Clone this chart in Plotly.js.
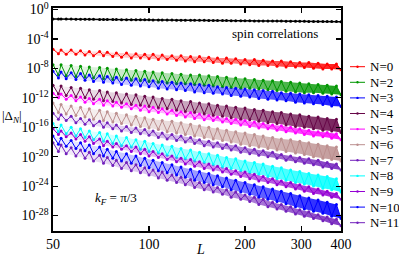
<!DOCTYPE html>
<html><head><meta charset="utf-8">
<script src="https://cdn.plot.ly/plotly-3.0.1.min.js"></script>
<style>html,body{margin:0;padding:0;background:#fff}#chart{width:399px;height:257px}</style>
</head><body><div id="chart"></div>
<script>
// chain lengths
const L = [50,52,53,55,57,59,61,63,65,67,70,72,74,77,79,82,85,88,91,94,97,100,103,107,110,114,118,122,126,130,135,139,144,149,154,159,164,170,175,181,187,194,200,207,214,221,228,236,244,252,260,269,278,288,297,307,317,328,339,351,362,374,387,400];

// log10 of the plotted magnitudes
const spinLog = [-1.29,-1.30,-1.30,-1.31,-1.31,-1.32,-1.33,-1.33,-1.34,-1.34,-1.35,-1.35,-1.36,-1.37,-1.37,-1.38,-1.38,-1.39,-1.40,-1.40,-1.41,-1.41,-1.42,-1.43,-1.43,-1.44,-1.44,-1.45,-1.45,-1.46,-1.47,-1.47,-1.48,-1.48,-1.49,-1.50,-1.50,-1.51,-1.51,-1.52,-1.52,-1.53,-1.54,-1.54,-1.55,-1.55,-1.56,-1.57,-1.57,-1.58,-1.58,-1.59,-1.60,-1.60,-1.61,-1.61,-1.62,-1.62,-1.63,-1.64,-1.64,-1.65,-1.65,-1.66];
const n0Log = [-5.4,-6.0,-5.5,-6.1,-5.5,-6.1,-5.6,-6.2,-5.7,-6.3,-5.7,-6.3,-5.8,-6.4,-5.9,-6.5,-5.9,-6.6,-6.0,-6.6,-6.1,-6.7,-6.1,-6.8,-6.2,-6.8,-6.3,-6.9,-6.3,-7.0,-6.4,-7.1,-6.4,-7.1,-6.5,-7.2,-6.6,-7.3,-6.6,-7.3,-6.7,-7.4,-6.8,-7.5,-6.8,-7.6,-6.9,-7.6,-7.0,-7.7,-7.0,-7.8,-7.1,-7.8,-7.2,-7.9,-7.2,-8.0,-7.3,-8.1,-7.4,-8.1,-7.4,-8.2];
const n2Log = [-7.5,-8.9,-7.5,-9.0,-7.6,-9.1,-7.7,-9.2,-7.8,-9.3,-7.9,-9.4,-8.0,-9.5,-8.1,-9.5,-8.2,-9.6,-8.3,-9.7,-8.4,-9.8,-8.5,-9.9,-8.6,-10.0,-8.7,-10.1,-8.8,-10.1,-8.9,-10.2,-8.9,-10.3,-9.0,-10.4,-9.1,-10.5,-9.2,-10.6,-9.3,-10.7,-9.4,-10.7,-9.5,-10.8,-9.6,-10.9,-9.7,-11.0,-9.8,-11.1,-9.9,-11.2,-10.0,-11.3,-10.1,-11.3,-10.2,-11.4,-10.3,-11.5,-10.4,-11.6];
const n3Log = [-8.4,-9.3,-8.5,-9.4,-8.6,-9.5,-8.7,-9.6,-8.9,-9.8,-9.0,-9.9,-9.1,-10.0,-9.2,-10.2,-9.3,-10.3,-9.4,-10.4,-9.5,-10.5,-9.7,-10.7,-9.8,-10.8,-9.9,-10.9,-10.0,-11.0,-10.1,-11.2,-10.2,-11.3,-10.3,-11.4,-10.5,-11.5,-10.6,-11.7,-10.7,-11.8,-10.8,-11.9,-10.9,-12.1,-11.0,-12.2,-11.1,-12.3,-11.3,-12.4,-11.4,-12.6,-11.5,-12.7,-11.6,-12.8,-11.7,-12.9,-11.8,-13.1,-11.9,-13.2];
const n4Log = [-10.3,-11.5,-10.4,-11.7,-10.6,-11.9,-10.7,-12.0,-10.9,-12.2,-11.0,-12.4,-11.2,-12.5,-11.3,-12.7,-11.5,-12.9,-11.6,-13.0,-11.8,-13.2,-11.9,-13.4,-12.1,-13.5,-12.2,-13.7,-12.4,-13.9,-12.5,-14.0,-12.7,-14.2,-12.8,-14.4,-13.0,-14.5,-13.1,-14.7,-13.3,-14.9,-13.4,-15.0,-13.6,-15.2,-13.7,-15.4,-13.9,-15.5,-14.0,-15.7,-14.2,-15.9,-14.3,-16.0,-14.5,-16.2,-14.6,-16.4,-14.8,-16.5,-14.9,-16.7];
const n5Log = [-11.4,-12.0,-11.5,-12.2,-11.7,-12.4,-11.9,-12.6,-12.1,-12.8,-12.2,-13.0,-12.4,-13.1,-12.6,-13.3,-12.8,-13.5,-13.0,-13.7,-13.1,-13.9,-13.3,-14.0,-13.5,-14.2,-13.7,-14.4,-13.9,-14.6,-14.0,-14.8,-14.2,-15.0,-14.4,-15.1,-14.6,-15.3,-14.8,-15.5,-14.9,-15.7,-15.1,-15.9,-15.3,-16.1,-15.5,-16.2,-15.7,-16.4,-15.8,-16.6,-16.0,-16.8,-16.2,-17.0,-16.4,-17.2,-16.6,-17.3,-16.7,-17.5,-16.9,-17.7];
const n6Log = [-12.7,-14.0,-12.9,-14.2,-13.1,-14.4,-13.3,-14.6,-13.5,-14.9,-13.7,-15.1,-13.9,-15.3,-14.1,-15.5,-14.3,-15.7,-14.5,-15.9,-14.7,-16.1,-14.9,-16.3,-15.1,-16.6,-15.2,-16.8,-15.4,-17.0,-15.6,-17.2,-15.8,-17.4,-16.0,-17.6,-16.2,-17.8,-16.4,-18.0,-16.6,-18.3,-16.8,-18.5,-17.0,-18.7,-17.2,-18.9,-17.4,-19.1,-17.6,-19.3,-17.7,-19.5,-17.9,-19.7,-18.1,-20.0,-18.3,-20.2,-18.5,-20.4,-18.7,-20.6];
const n7Log = [-14.1,-14.9,-14.3,-15.1,-14.5,-15.4,-14.8,-15.6,-15.0,-15.8,-15.2,-16.0,-15.4,-16.2,-15.7,-16.5,-15.9,-16.7,-16.1,-16.9,-16.3,-17.1,-16.5,-17.4,-16.8,-17.6,-17.0,-17.8,-17.2,-18.0,-17.4,-18.2,-17.7,-18.5,-17.9,-18.7,-18.1,-18.9,-18.3,-19.1,-18.5,-19.4,-18.8,-19.6,-19.0,-19.8,-19.2,-20.0,-19.4,-20.2,-19.7,-20.5,-19.9,-20.7,-20.1,-20.9,-20.3,-21.1,-20.5,-21.4,-20.8,-21.6,-21.0,-21.8];
const n8Log = [-15.5,-16.6,-15.7,-16.9,-16.0,-17.2,-16.2,-17.4,-16.5,-17.7,-16.7,-17.9,-16.9,-18.2,-17.2,-18.5,-17.4,-18.7,-17.7,-19.0,-17.9,-19.3,-18.2,-19.5,-18.4,-19.8,-18.6,-20.1,-18.9,-20.3,-19.1,-20.6,-19.4,-20.8,-19.6,-21.1,-19.8,-21.4,-20.1,-21.6,-20.3,-21.9,-20.6,-22.2,-20.8,-22.4,-21.0,-22.7,-21.3,-23.0,-21.5,-23.2,-21.8,-23.5,-22.0,-23.7,-22.3,-24.0,-22.5,-24.3,-22.7,-24.5,-23.0,-24.8];
const n9Log = [-16.2,-17.0,-16.5,-17.3,-16.8,-17.6,-17.0,-17.9,-17.3,-18.2,-17.6,-18.5,-17.9,-18.7,-18.2,-19.0,-18.5,-19.3,-18.7,-19.6,-19.0,-19.9,-19.3,-20.1,-19.6,-20.4,-19.9,-20.7,-20.2,-21.0,-20.4,-21.3,-20.7,-21.6,-21.0,-21.8,-21.3,-22.1,-21.6,-22.4,-21.9,-22.7,-22.1,-23.0,-22.4,-23.3,-22.7,-23.5,-23.0,-23.8,-23.3,-24.1,-23.5,-24.4,-23.8,-24.7,-24.1,-25.0,-24.4,-25.2,-24.7,-25.5,-25.0,-25.8];
const n10Log = [-17.2,-18.3,-17.5,-18.6,-17.8,-18.9,-18.1,-19.2,-18.4,-19.6,-18.7,-19.9,-19.0,-20.2,-19.3,-20.6,-19.6,-20.9,-19.9,-21.2,-20.2,-21.5,-20.5,-21.9,-20.8,-22.2,-21.1,-22.5,-21.4,-22.8,-21.7,-23.2,-22.0,-23.5,-22.3,-23.8,-22.6,-24.1,-22.9,-24.5,-23.2,-24.8,-23.5,-25.1,-23.8,-25.5,-24.1,-25.8,-24.4,-26.1,-24.7,-26.4,-25.0,-26.8,-25.3,-27.1,-25.6,-27.4,-25.9,-27.7,-26.2,-28.1,-26.5,-28.4];
const n11Log = [-18.1,-19.3,-18.4,-19.6,-18.8,-19.9,-19.1,-20.2,-19.4,-20.6,-19.8,-20.9,-20.1,-21.2,-20.5,-21.6,-20.8,-21.9,-21.1,-22.2,-21.5,-22.5,-21.8,-22.9,-22.1,-23.2,-22.5,-23.5,-22.8,-23.8,-23.1,-24.2,-23.5,-24.5,-23.8,-24.8,-24.2,-25.1,-24.5,-25.5,-24.8,-25.8,-25.2,-26.1,-25.5,-26.5,-25.8,-26.8,-26.2,-27.1,-26.5,-27.4,-26.8,-27.8,-27.2,-28.1,-27.5,-28.4,-27.9,-28.7,-28.2,-29.1,-28.5,-29.4];

const seriesNames = ["N=0","N=2","N=3","N=4","N=5","N=6","N=7","N=8","N=9","N=10","N=11"];
const seriesColors = ["#ff0000","#009600","#0000ff","#670748","#ff00ff","#bc8f8f","#7221bc","#00ffff","#9400d3","#0000ff","#7221bc"];
const seriesLogs = [n0Log,n2Log,n3Log,n4Log,n5Log,n6Log,n7Log,n8Log,n9Log,n10Log,n11Log];

const xTickVals = [50,100,200,300,400];
const xTickText = ["50","100","200","300","400"];
const yTickExp = [0,-4,-8,-12,-16,-20,-24,-28];
const yTickText = yTickExp.map(e => "10<sup>" + e + "</sup>");

const FONT = "Liberation Serif, Times New Roman, serif";
const toVal = arr => arr.map(e => Math.pow(10, e));
const rgba = (hex, a) => {
  const n = parseInt(hex.slice(1), 16);
  return "rgba(" + ((n >> 16) & 255) + "," + ((n >> 8) & 255) + "," + (n & 255) + "," + a + ")";
};

const traces = [{
  x: L, y: toVal(spinLog), type: "scatter", mode: "lines+markers",
  line: {color: "#000", width: 1.4}, marker: {color: "#000", size: 3},
  showlegend: false, hoverinfo: "skip"
}];
seriesLogs.forEach((arr, i) => {
  const vals = toVal(arr);
  // dense oscillation band: outline through the same points (upper points forward, lower points back)
  const upX = L.filter((_, j) => j % 2 === 0), upY = vals.filter((_, j) => j % 2 === 0);
  const loX = L.filter((_, j) => j % 2 === 1), loY = vals.filter((_, j) => j % 2 === 1);
  traces.push({
    x: upX.concat(loX.slice().reverse()), y: upY.concat(loY.slice().reverse()),
    type: "scatter", mode: "none", fill: "toself",
    fillgradient: {type: "horizontal", colorscale: [[0, rgba(seriesColors[i], 0.05)], [0.45, rgba(seriesColors[i], 0.35)], [1, rgba(seriesColors[i], 0.9)]]},
    showlegend: false, hoverinfo: "skip"
  });
  traces.push({
    x: L, y: vals, type: "scatter", mode: "lines+markers", name: seriesNames[i],
    line: {color: seriesColors[i], width: 1}, marker: {color: seriesColors[i], size: 3, symbol: "circle"},
    showlegend: false, hoverinfo: "skip"
  });
});

// plot area geometry (pixels) for the hand-placed legend and labels
const plotL = 53, plotR = 341, plotT = 8, plotB = 231;

const shapes = [], annotations = [];
// helper: anchor at plot top-left corner, offset in pixels
const txt = (px, py, text, xanchor, size, color) => ({
  xref: "paper", yref: "paper", x: 0, y: 1, xshift: px - plotL, yshift: plotT - py,
  xanchor: xanchor, yanchor: "middle", text: text, showarrow: false,
  font: {family: FONT, size: size, color: color || "#000"}
});
seriesNames.forEach((name, i) => {
  const py = 66.7 + 15.6 * i;
  shapes.push({type: "line", xref: "paper", yref: "paper", xsizemode: "pixel", ysizemode: "pixel",
               xanchor: 0, yanchor: 1, x0: 350 - plotL, x1: 365 - plotL, y0: plotT - py, y1: plotT - py,
               line: {color: seriesColors[i], width: 1}});
  shapes.push({type: "circle", xref: "paper", yref: "paper", xsizemode: "pixel", ysizemode: "pixel",
               xanchor: 0, yanchor: 1, x0: 356.3 - plotL, x1: 358.7 - plotL, y0: plotT - py - 1.2, y1: plotT - py + 1.2,
               fillcolor: seriesColors[i], line: {width: 0}});
  annotations.push(txt(367.5, py, name, "left", 13));
});
annotations.push(txt(275, 33, "spin correlations", "center", 13));
annotations.push(txt(93, 198, "<i>k</i><sub><i>F</i></sub> = π/3", "left", 13));
annotations.push(txt(0, 116, "|Δ<sub><i>N</i></sub>|", "left", 13));
annotations.push(txt(200, 249, "<i>L</i>", "center", 14));

const layout = {
  width: 399, height: 257,
  margin: {l: plotL, r: 399 - plotR, t: plotT, b: 257 - plotB, pad: 0},
  paper_bgcolor: "#fff", plot_bgcolor: "#fff",
  showlegend: false,
  font: {family: FONT, size: 14, color: "#000"},
  xaxis: {
    type: "log", range: [Math.log10(50), Math.log10(400)],
    tickmode: "array", tickvals: xTickVals, ticktext: xTickText,
    ticks: "inside", ticklen: 5, tickwidth: 1.2, tickcolor: "#000",
    showline: true, linecolor: "#000", linewidth: 1.6, mirror: "ticks",
    showgrid: false, zeroline: false, ticklabeloverflow: "allow", automargin: false,
    tickfont: {family: FONT, size: 14, color: "#000"}
  },
  yaxis: {
    type: "log", range: [-30.1, 0.2],
    tickmode: "array", tickvals: yTickExp.map(e => Math.pow(10, e)), ticktext: yTickText,
    ticks: "inside", ticklen: 5, tickwidth: 1.2, tickcolor: "#000",
    showline: true, linecolor: "#000", linewidth: 1.6, mirror: "ticks",
    showgrid: false, zeroline: false, ticklabeloverflow: "allow", automargin: false,
    tickfont: {family: FONT, size: 14, color: "#000"}
  },
  shapes: shapes,
  annotations: annotations
};

Plotly.newPlot("chart", traces, layout, {staticPlot: true, displayModeBar: false});
</script>
</body></html>
